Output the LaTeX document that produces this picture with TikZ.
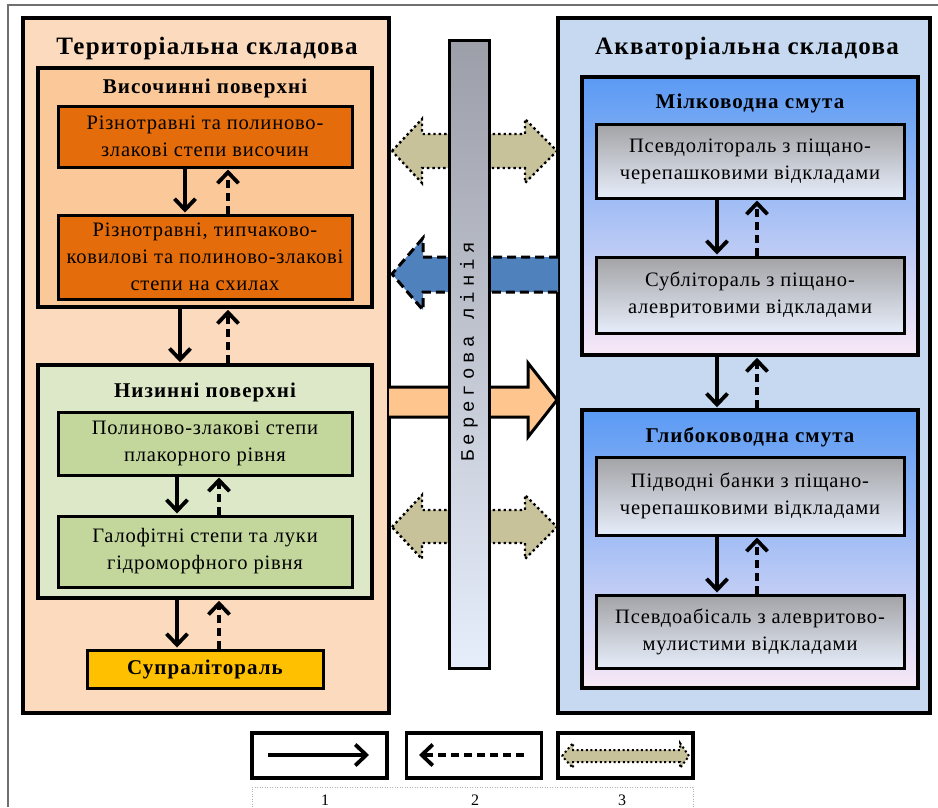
\documentclass[tikz,border=0pt]{standalone}
\usepackage{fontspec}
\setmainfont{Liberation Serif}
\newfontfamily\bodyf[LetterSpace=4]{Liberation Serif}
\newfontfamily\hdf[LetterSpace=5]{Liberation Serif}
\newfontfamily\monof[LetterSpace=26]{Liberation Mono}
\usetikzlibrary{arrows.meta,calc}
\definecolor{terrbg}{HTML}{FCDABD}
\definecolor{vysbg}{HTML}{FBC89A}
\definecolor{orng}{HTML}{E46C0A}
\definecolor{nyzbg}{HTML}{DDE8C8}
\definecolor{grn}{HTML}{C3D69B}
\definecolor{gold}{HTML}{FFC000}
\definecolor{aquabg}{HTML}{C6D9F1}
\definecolor{smtop}{HTML}{5A9AF4}
\definecolor{smmid}{HTML}{A6CEF8}
\definecolor{smbot}{HTML}{F8E8F6}
\definecolor{grtop}{HTML}{A3A3A6}
\definecolor{grmid}{HTML}{D2D7E2}
\definecolor{grbot}{HTML}{E6EDFA}
\definecolor{bartop}{HTML}{9C9EA8}
\definecolor{barbot}{HTML}{E6EEFB}
\definecolor{khaki}{HTML}{C8C29B}
\definecolor{bluearr}{HTML}{4F81BD}
\definecolor{peach}{HTML}{FEC58F}
\definecolor{frame}{HTML}{707070}
\tikzset{
  bigbox/.style={draw=black, line width=4pt, inner sep=0pt},
  secbox/.style={draw=black, line width=3.5pt, inner sep=0pt},
  itembox/.style={draw=black, line width=3pt, inner sep=0pt, align=center,
    font=\bodyf\fontsize{20.5}{27}\selectfont},
  grbox/.style={itembox, top color=grtop, middle color=grmid, bottom color=grbot},
  hdtitle/.style={font=\hdf\bfseries\fontsize{25}{28}\selectfont, inner sep=0pt},
  subtitle/.style={font=\hdf\bfseries\fontsize{21}{24}\selectfont, inner sep=0pt},
  conn/.style={line width=3.8pt, -{Straight Barb[length=11pt,width=21pt]}, shorten >=1pt},
  connd/.style={conn, dash pattern=on 8pt off 5pt},
  dotb/.style={draw=black, line width=2.4pt, dash pattern=on 2.4pt off 3pt},
  legbox/.style={draw=black, line width=3.5pt, inner sep=0pt, minimum width=135pt, minimum height=45pt},
  legnum/.style={font=\fontsize{16}{18}\selectfont, anchor=base, inner sep=0pt},
}
\begin{document}
\begin{tikzpicture}[x=1pt,y=-1pt]
\useasboundingbox (0,0) rectangle (938,807);
% outer frame
\draw[frame, line width=1.6pt] (8,807) -- (8,5) -- (938,5);

% ---------- left column ----------
\node[bigbox, fill=terrbg, minimum width=366pt, minimum height=695pt] (terr) at (206,365.5) {};
\node[hdtitle] (terrT) at (207,48) {Територіальна складова};
\node[secbox, fill=vysbg, minimum width=334pt, minimum height=239pt] (vys) at (205,187.5) {};
\node[subtitle] (vysT) at (205,88) {Височинні поверхні};
\node[itembox, fill=orng, minimum width=294pt, minimum height=61pt] (o1) at (205,136.5)
  {Різнотравні та полиново-\\злакові степи височин};
\node[itembox, fill=orng, minimum width=294pt, minimum height=84pt] (o2) at (205,257)
  {Різнотравні, типчаково-\\ковилові та полиново-злакові\\степи на схилах};
\node[secbox, fill=nyzbg, minimum width=334pt, minimum height=233pt] (nyz) at (205,481.5) {};
\node[subtitle] (nyzT) at (205,392) {Низинні поверхні};
\node[itembox, fill=grn, minimum width=294pt, minimum height=63pt] (g1) at (205,443.5)
  {Полиново-злакові степи\\плакорного рівня};
\node[itembox, fill=grn, minimum width=294pt, minimum height=71pt] (g2) at (205,551.5)
  {Галофітні степи та луки\\гідроморфного рівня};
\node[itembox, fill=gold, minimum width=236pt, minimum height=38pt, font=\hdf\bfseries\fontsize{21}{24}\selectfont] (supra) at (205,669) {Супралітораль};

\draw[conn] ([xshift=-20pt]o1.south) -- ([xshift=-20pt]o2.north);
\draw[connd] ([xshift=23pt]o2.north) -- ([xshift=23pt]o1.south);
\draw[conn] ([xshift=-25pt]vys.south) -- ([xshift=-25pt]nyz.north);
\draw[connd] ([xshift=23pt]nyz.north) -- ([xshift=23pt]vys.south);
\draw[conn] ([xshift=-28pt]g1.south) -- ([xshift=-28pt]g2.north);
\draw[connd] ([xshift=14pt]g2.north) -- ([xshift=14pt]g1.south);
\draw[conn] ([xshift=-28pt]nyz.south) -- ([xshift=-28pt]supra.north);
\draw[connd] ([xshift=14pt]supra.north) -- ([xshift=14pt]nyz.south);

% ---------- right column ----------
\node[bigbox, fill=aquabg, minimum width=372pt, minimum height=695pt] (aqua) at (744,365.5) {};
\node[hdtitle] (aquaT) at (747,48) {Акваторіальна складова};
\node[secbox, top color=smtop, middle color=smmid, bottom color=smbot, minimum width=336pt, minimum height=278pt] (mil) at (750,216) {};
\node[subtitle] (milT) at (750,103) {Мілководна смута};
\node[grbox, minimum width=308pt, minimum height=74pt] (s1) at (750,161)
  {Псевдолітораль з піщано-\\черепашковими відкладами};
\node[grbox, minimum width=308pt, minimum height=76pt] (s2) at (750,295)
  {Сублітораль з піщано-\\алевритовими відкладами};
\node[secbox, top color=smtop, middle color=smmid, bottom color=smbot, minimum width=336pt, minimum height=278pt] (glyb) at (750,549) {};
\node[subtitle] (glybT) at (750,437) {Глибоководна смута};
\node[grbox, minimum width=308pt, minimum height=78pt] (s3) at (750,496)
  {Підводні банки з піщано-\\черепашковими відкладами};
\node[grbox, minimum width=308pt, minimum height=73pt] (s4) at (750,631.5)
  {Псевдоабісаль з алевритово-\\мулистими відкладами};

\draw[conn] ([xshift=-33pt]s1.south) -- ([xshift=-33pt]s2.north);
\draw[connd] ([xshift=7pt]s2.north) -- ([xshift=7pt]s1.south);
\draw[conn] ([xshift=-33pt]mil.south) -- ([xshift=-33pt]glyb.north);
\draw[connd] ([xshift=7pt]glyb.north) -- ([xshift=7pt]mil.south);
\draw[conn] ([xshift=-33pt]s3.south) -- ([xshift=-33pt]s4.north);
\draw[connd] ([xshift=7pt]s4.north) -- ([xshift=7pt]s3.south);

% ---------- middle block arrows ----------
\filldraw[fill=khaki, dotb] (392,151) -- (422,119) -- (422,134) -- (525,134) -- (525,119) -- (557,151)
  -- (525,183) -- (525,168) -- (422,168) -- (422,183) -- cycle;
\fill[bluearr] (558,257) -- (423,257) -- (423,238) -- (392,274) -- (423,310) -- (423,292) -- (558,292) -- cycle;
\draw[line width=3pt, dash pattern=on 9pt off 5pt] (558,257) -- (423,257) -- (423,238) -- (392,274) -- (423,310) -- (423,292) -- (558,292);
\fill[peach] (389,387) -- (528,387) -- (528,363) -- (557,400) -- (528,437) -- (528,417) -- (389,417) -- cycle;
\draw[line width=3pt, line join=miter] (389,387) -- (528,387) -- (528,363) -- (557,400) -- (528,437) -- (528,417) -- (389,417);
\filldraw[fill=khaki, dotb] (392,527) -- (422,495) -- (422,510) -- (525,510) -- (525,495) -- (557,527)
  -- (525,559) -- (525,543) -- (422,543) -- (422,559) -- cycle;

% coastline bar
\node[draw=black, line width=3pt, top color=bartop, bottom color=barbot, minimum width=40pt, minimum height=628pt, inner sep=0pt] (bar) at (469,354) {};
\node[rotate=90, font=\monof\fontsize{19}{22}\selectfont, inner sep=0pt] (barT) at (469,352) {Берегова лінія};

% ---------- legend ----------
\node[legbox] (l1) at (319.5,755.5) {};
\node[legbox] (l2) at (474,755.5) {};
\node[legbox] (l3) at (625.5,755.5) {};
\coordinate (l1a) at (268,755);
\coordinate (l1b) at (370,755);
\draw[conn] (l1a) -- (l1b);
\coordinate (l2a) at (524,755);
\coordinate (l2b) at (418,755);
\draw[connd] (l2a) -- (l2b);
\filldraw[fill=khaki, draw=black, line width=2pt, dash pattern=on 2pt off 2.6pt] (562,756) -- (573,743) -- (573,750) -- (680,750) -- (680,743) -- (689,756)
  -- (680,768) -- (680,762) -- (573,762) -- (573,768) -- cycle;
\draw[gray!60, line width=0.8pt, dash pattern=on 1pt off 1.5pt] (252,807) -- (252,787) -- (693,787) -- (693,807);
\node[legnum] (n1) at (325,805) {1};
\node[legnum] (n2) at (475,805) {2};
\node[legnum] (n3) at (622,805) {3};
\end{tikzpicture}
\end{document}
